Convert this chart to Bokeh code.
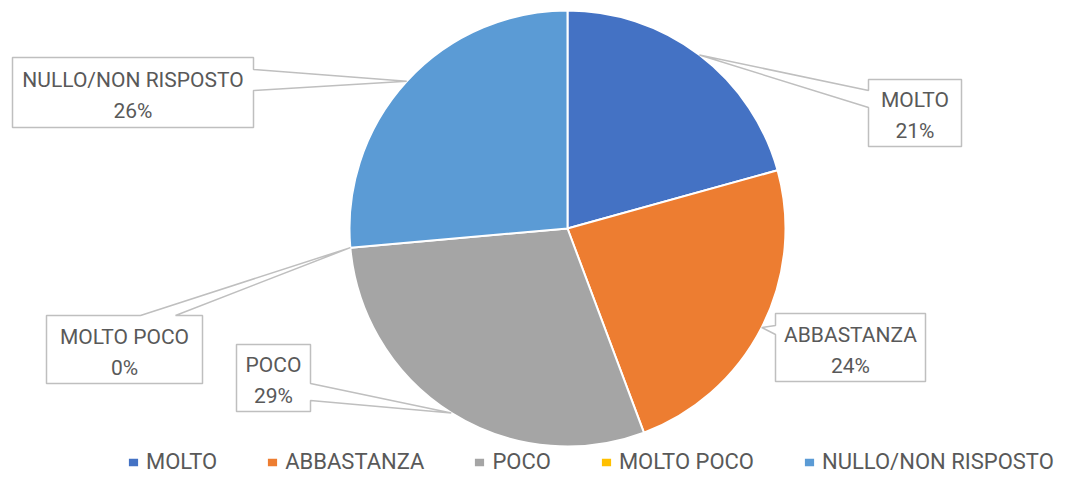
import math
from bokeh.plotting import figure
from bokeh.models import Range1d, Legend, LegendItem, ColumnDataSource
from bokeh.core.properties import value
from bokeh.embed import file_html
from bokeh.resources import INLINE

# ---- data ----
categories = ["MOLTO", "ABBASTANZA", "POCO", "MOLTO POCO", "NULLO/NON RISPOSTO"]
percent = [20.7, 23.6, 29.3, 0.0, 26.4]
colors = ["#4472C4", "#ED7D31", "#A5A5A5", "#FFC000", "#5B9BD5"]

# ---- layout (picture pixels, y downwards) ----
W, H = 1059, 474
CX, CY, R = 567, 228, 218
# label callout boxes: x0, y0, x1, y1, pointer side, pointer base b1, b2
boxes = [
    (868, 79, 961, 146, "left", 90, 107),
    (775, 313, 925, 381, "left", 325, 334),
    (236, 344, 310, 411, "right", 383, 400),
    (46, 315, 202, 383, "top", 140, 175),
    (12, 57, 253, 127, "right", 69, 90),
]
FONT = "Roboto"
TXT = "#595959"


def Y(py):
    return 490 - py


p = figure(width=W, height=H, output_backend="svg", toolbar_location=None,
           x_range=Range1d(0, W), y_range=Range1d(490 - H, 490),
           x_axis_type=None, y_axis_type=None, min_border=0)
p.outline_line_color = None
p.background_fill_color = "white"

# wedges
total = sum(percent)
starts, ends, radii = [], [], []
cum = 0.0
for v in percent:
    starts.append(math.pi / 2 - 2 * math.pi * cum / total)
    cum += v
    ends.append(math.pi / 2 - 2 * math.pi * cum / total)
    radii.append(R if v > 0 else 0)
src = ColumnDataSource(dict(cat=categories, val=percent, color=colors,
                            start=starts, end=ends, r=radii))
wr = p.wedge(x=CX, y=Y(CY), radius="r", start_angle="start", end_angle="end",
             direction="clock", fill_color="color", line_color="white",
             line_width=2, source=src)

# callouts
cum = 0.0
for i, (cat, v) in enumerate(zip(categories, percent)):
    mid = (cum + v / 2) / total
    cum += v
    ang = 2 * math.pi * mid
    tx = CX + R * math.sin(ang)
    ty = CY - R * math.cos(ang)
    x0, y0, x1, y1, side, b1, b2 = boxes[i]
    pts = [(x0, y0)]
    if side == "top":
        pts += [(b1, y0), (tx, ty), (b2, y0)]
    pts += [(x1, y0)]
    if side == "right":
        pts += [(x1, b1), (tx, ty), (x1, b2)]
    pts += [(x1, y1), (x0, y1)]
    if side == "left":
        pts += [(x0, b2), (tx, ty), (x0, b1)]
    p.patch([q[0] for q in pts], [Y(q[1]) for q in pts], fill_color="white",
            line_color="#BFBFBF", line_width=1.5)
    cxm = (x0 + x1) / 2
    cym = (y0 + y1) / 2
    p.text(x=[cxm, cxm], y=[Y(cym - 13), Y(cym + 18)],
           text=[cat, f"{round(v)}%"], text_align="center",
           text_baseline="alphabetic", text_font=value(FONT),
           text_font_size="21px", text_color=TXT)

items = [LegendItem(label=c, renderers=[wr], index=i) for i, c in enumerate(categories)]
legend = Legend(items=items, orientation="horizontal", location=(126, 0),
                glyph_width=14, glyph_height=12, label_standoff=6, spacing=48,
                padding=0, margin=0, border_line_color=None,
                background_fill_alpha=0, label_text_font=FONT,
                label_text_font_size="22px", label_text_color=TXT)
p.add_layout(legend)

open("out.html", "w").write(file_html(p, INLINE))
